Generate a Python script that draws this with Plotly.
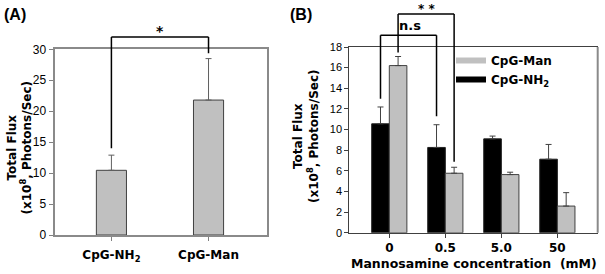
import plotly.graph_objects as go

# ---------------- data ----------------
a_categories = ["CpG-NH<sub>2</sub>", "CpG-Man"]
a_values = [10.45, 21.8]
a_errors = [2.45, 6.7]

b_categories = ["0", "0.5", "5.0", "50"]
b_nh2_values = [10.56, 8.27, 9.10, 7.13]
b_nh2_errors = [1.63, 2.20, 0.27, 1.43]
b_man_values = [16.2, 5.77, 5.64, 2.59]
b_man_errors = [0.88, 0.58, 0.23, 1.30]

a_yticks = [0, 5, 10, 15, 20, 25, 30]
b_yticks = [0, 2, 4, 6, 8, 10, 12, 14, 16, 18]

A_RANGE = [0, 30]
B_RANGE = [0, 18]

W, H = 605, 274
BOLD = "DejaVu Sans"
ARIAL = "Liberation Sans, Arial"

def px_x(p):
    return p / W

def px_y(p):
    return 1 - p / H

def ydom(v, r):
    return (v - r[0]) / (r[1] - r[0])

fig = go.Figure()

# Panel A
fig.add_trace(go.Bar(
    x=list(range(len(a_categories))), y=a_values,
    width=0.31,
    marker=dict(color="#c0c0c0", line=dict(color="#404040", width=1)),
    error_y=dict(type="data", array=a_errors, arrayminus=[0] * len(a_errors),
                 symmetric=False, color="#606060", thickness=1, width=3),
    showlegend=False, xaxis="x", yaxis="y",
))

# Panel B
fig.add_trace(go.Bar(
    x=list(range(len(b_categories))), y=b_nh2_values, name="CpG-NH<sub>2</sub>",
    marker=dict(color="#000000", line=dict(color="#202020", width=1)),
    error_y=dict(type="data", array=b_nh2_errors, arrayminus=[0] * 4,
                 symmetric=False, color="#404040", thickness=1, width=3),
    showlegend=False, xaxis="x2", yaxis="y2",
))
fig.add_trace(go.Bar(
    x=list(range(len(b_categories))), y=b_man_values, name="CpG-Man",
    marker=dict(color="#c0c0c0", line=dict(color="#404040", width=1)),
    error_y=dict(type="data", array=b_man_errors, arrayminus=[0] * 4,
                 symmetric=False, color="#404040", thickness=1, width=3),
    showlegend=False, xaxis="x2", yaxis="y2",
))

# legend proxies (wide swatches)
fig.add_trace(go.Scatter(x=[None], y=[None], mode="lines", name="CpG-Man",
                         line=dict(color="#c0c0c0", width=6),
                         xaxis="x2", yaxis="y2"))
fig.add_trace(go.Scatter(x=[None], y=[None], mode="lines", name="CpG-NH<sub>2</sub>",
                         line=dict(color="#000000", width=6),
                         xaxis="x2", yaxis="y2"))

tickfont_a = dict(family=ARIAL, size=12, color="black")
tickfont_b = dict(family=ARIAL, size=11, color="black")
catfont = dict(family=BOLD, size=12, color="black", weight="bold")

fig.update_layout(
    width=W, height=H,
    margin=dict(l=0, r=0, t=0, b=0, autoexpand=False),
    paper_bgcolor="white", plot_bgcolor="white",
    barmode="group", bargap=0.372, bargroupgap=0,
    xaxis=dict(domain=[px_x(54.5), px_x(266.5)], range=[-0.586, 1.597],
               tickvals=list(range(len(a_categories))), ticktext=a_categories,
               tickfont=catfont, ticks="outside", ticklen=4, tickcolor="#808080",
               ticklabelstandoff=4,
               showline=True, linecolor="#8a8a8a", linewidth=2, mirror=True,
               showgrid=False, zeroline=False, anchor="y", automargin=False),
    yaxis=dict(domain=[px_y(235), px_y(49.3)], range=A_RANGE,
               tickvals=a_yticks, tickfont=tickfont_a,
               ticks="outside", ticklen=4, tickcolor="#808080",
               showline=True, linecolor="#8a8a8a", linewidth=2, mirror=True,
               showgrid=False, zeroline=False, anchor="x", automargin=False),
    xaxis2=dict(domain=[px_x(349.3), px_x(597.7)], range=[-0.714, 3.72],
                tickvals=list(range(len(b_categories))), ticktext=b_categories,
                tickfont=catfont, ticks="outside", ticklen=4, tickcolor="#404040",
                showline=True, linecolor="#404040", linewidth=1, mirror=True,
                showgrid=False, zeroline=False, anchor="y2", automargin=False),
    yaxis2=dict(domain=[px_y(232.8), px_y(47)], range=B_RANGE,
                tickvals=b_yticks, tickfont=tickfont_b,
                ticks="outside", ticklen=4, tickcolor="#404040",
                showline=True, linecolor="#404040", linewidth=1, mirror=False,
                showgrid=False, zeroline=False, anchor="x2", automargin=False),
    legend=dict(x=px_x(451), y=px_y(46), xanchor="left", yanchor="top",
                bgcolor="rgba(0,0,0,0)",
                font=dict(family=BOLD, size=12, color="black", weight="bold"),
                traceorder="normal", itemwidth=30, tracegroupgap=2),
)

shapes = []
ann = []

# right frame line of B (gray)
shapes.append(dict(type="line", xref="x2 domain", yref="y2 domain",
                   x0=1, x1=1, y0=0, y1=1, line=dict(color="#8a8a8a", width=2)))

# Panel A significance bracket
a_top = ydom(32.0, A_RANGE)
for x0, x1, y0, y1 in [(0, 0, ydom(14.0, A_RANGE), a_top),
                       (0, 1, a_top, a_top),
                       (1, 1, ydom(29.35, A_RANGE), a_top)]:
    shapes.append(dict(type="line", xref="x", yref="y domain", x0=x0, x1=x1,
                       y0=y0, y1=y1, line=dict(color="black", width=1.5)))
ann.append(dict(text="<b>*</b>", xref="x", yref="y domain", x=0.5, y=ydom(32.9, A_RANGE),
                showarrow=False, font=dict(family=BOLD, size=14, color="black"),
                yanchor="middle"))

# Panel B brackets
off = 0.157
ns_top = ydom(19.14, B_RANGE)
for x0, x1, y0, y1 in [(-off, -off, ydom(12.99, B_RANGE), ns_top),
                       (-off, 1 - off, ns_top, ns_top),
                       (1 - off, 1 - off, ydom(11.3, B_RANGE), ns_top)]:
    shapes.append(dict(type="line", xref="x2", yref="y2 domain", x0=x0, x1=x1,
                       y0=y0, y1=y1, line=dict(color="black", width=1.5)))
ss_top = ydom(21.2, B_RANGE)
for x0, x1, y0, y1 in [(off, off, ydom(17.46, B_RANGE), ss_top),
                       (off, 1 + off, ss_top, ss_top),
                       (1 + off, 1 + off, ydom(6.89, B_RANGE), ss_top)]:
    shapes.append(dict(type="line", xref="x2", yref="y2 domain", x0=x0, x1=x1,
                       y0=y0, y1=y1, line=dict(color="black", width=1.5)))
ann.append(dict(text="<b>n.s</b>", xref="x2", yref="y2 domain", x=0.37, y=ydom(20.1, B_RANGE),
                showarrow=False, font=dict(family=BOLD, size=13, color="black"),
                yanchor="middle"))
ann.append(dict(text="<b>* *</b>", xref="x2", yref="y2 domain", x=0.66, y=ydom(21.65, B_RANGE),
                showarrow=False, font=dict(family=BOLD, size=12, color="black"),
                yanchor="middle"))

# Panel labels
ann.append(dict(text="<b>(A)</b>", xref="paper", yref="paper", x=px_x(2), y=px_y(14),
                xanchor="left", yanchor="middle", showarrow=False,
                font=dict(family=ARIAL, size=16, color="black")))
ann.append(dict(text="<b>(B)</b>", xref="paper", yref="paper", x=px_x(288), y=px_y(14),
                xanchor="left", yanchor="middle", showarrow=False,
                font=dict(family=ARIAL, size=16, color="black")))

# Y axis titles
ytitle = "<b>Total Flux<br>(x10<sup>8</sup>, Photons/Sec)</b>"
ann.append(dict(text=ytitle, xref="paper", yref="paper", x=px_x(19.5), y=px_y(148),
                textangle=-90, showarrow=False, xanchor="center", yanchor="middle",
                font=dict(family=BOLD, size=12, color="black")))
ann.append(dict(text=ytitle, xref="paper", yref="paper", x=px_x(306), y=px_y(136),
                textangle=-90, showarrow=False, xanchor="center", yanchor="middle",
                font=dict(family=BOLD, size=12, color="black")))

# X axis title B
ann.append(dict(text="<b>Mannosamine concentration  (mM)</b>", xref="paper", yref="paper",
                x=px_x(474), y=px_y(263), showarrow=False,
                xanchor="center", yanchor="middle",
                font=dict(family=BOLD, size=12.5, color="black")))

fig.update_layout(shapes=shapes, annotations=ann)
fig.write_html("out.html",
               config={"displayModeBar": False},
               post_script="document.body.style.margin='0px';document.body.style.padding='0px';")
